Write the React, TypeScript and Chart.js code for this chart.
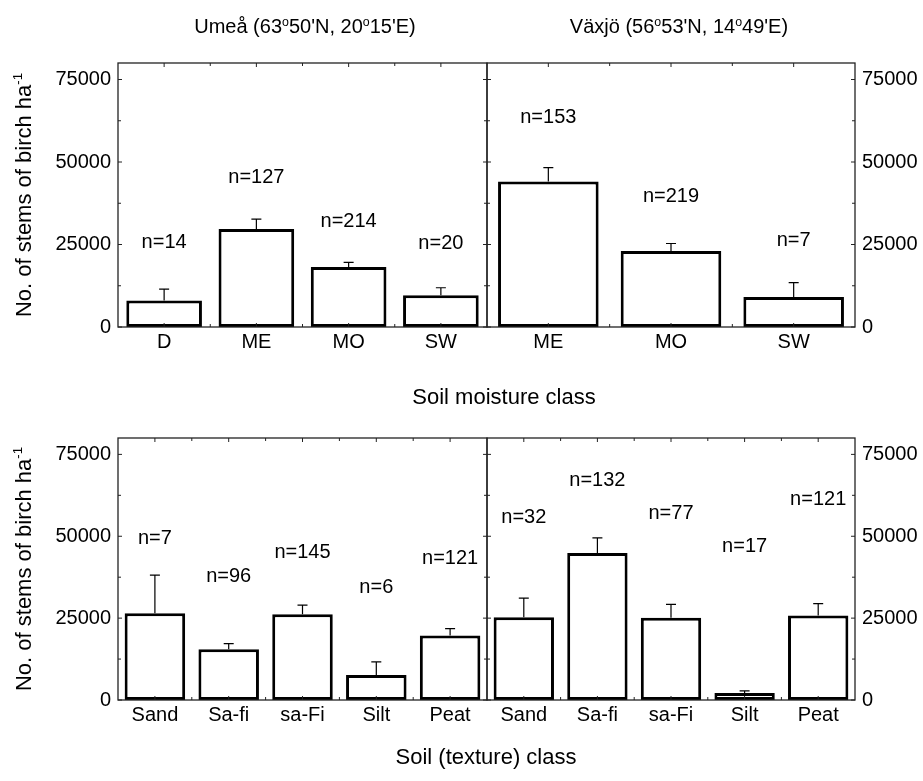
import React, { useEffect, useRef } from 'react';
import { Chart, registerables } from 'chart.js';

Chart.register(...registerables);

const FONT = '"Liberation Sans", Arial, Helvetica, sans-serif';

// ---- shared axis data ----
const yTickLabels = [0, 25000, 50000, 75000];
const yMinorTicks = [12500, 37500, 62500];
const yMax = 80000;

// ---- Umeå, soil moisture ----
const moistUmeaCats = ['D', 'ME', 'MO', 'SW'];
const moistUmeaMeans = [8000, 29700, 18200, 9600];
const moistUmeaErr = [3500, 3000, 1400, 2300];
const moistUmeaN = ['n=14', 'n=127', 'n=214', 'n=20'];
const moistUmeaNPos = [25700, 45200, 31900, 25300];

// ---- Växjö, soil moisture ----
const moistVaxjoCats = ['ME', 'MO', 'SW'];
const moistVaxjoMeans = [44100, 23000, 9100];
const moistVaxjoErr = [4200, 2300, 4350];
const moistVaxjoN = ['n=153', 'n=219', 'n=7'];
const moistVaxjoNPos = [63500, 39700, 26300];

// ---- Umeå, soil texture ----
const textUmeaCats = ['Sand', 'Sa-fi', 'sa-Fi', 'Silt', 'Peat'];
const textUmeaMeans = [26500, 15500, 26200, 7600, 19700];
const textUmeaErr = [11600, 1700, 2800, 4050, 2100];
const textUmeaN = ['n=7', 'n=96', 'n=145', 'n=6', 'n=121'];
const textUmeaNPos = [49200, 37800, 45100, 34500, 43300];

// ---- Växjö, soil texture ----
const textVaxjoCats = ['Sand', 'Sa-fi', 'sa-Fi', 'Silt', 'Peat'];
const textVaxjoMeans = [25300, 44900, 25100, 2100, 25800];
const textVaxjoErr = [5800, 4600, 4100, 700, 3600];
const textVaxjoN = ['n=32', 'n=132', 'n=77', 'n=17', 'n=121'];
const textVaxjoNPos = [55700, 66900, 57000, 46900, 61100];

const W = 923;
const H = 781;

type PanelDef = {
  cats: string[];
  means: number[];
  errs: number[];
  nLabels: string[];
  nPos: number[];
  side: 'left' | 'right';
  row: 'top' | 'bottom';
};

const panels: PanelDef[] = [
  { cats: moistUmeaCats, means: moistUmeaMeans, errs: moistUmeaErr, nLabels: moistUmeaN, nPos: moistUmeaNPos, side: 'left', row: 'top' },
  { cats: moistVaxjoCats, means: moistVaxjoMeans, errs: moistVaxjoErr, nLabels: moistVaxjoN, nPos: moistVaxjoNPos, side: 'right', row: 'top' },
  { cats: textUmeaCats, means: textUmeaMeans, errs: textUmeaErr, nLabels: textUmeaN, nPos: textUmeaNPos, side: 'left', row: 'bottom' },
  { cats: textVaxjoCats, means: textVaxjoMeans, errs: textVaxjoErr, nLabels: textVaxjoN, nPos: textVaxjoNPos, side: 'right', row: 'bottom' },
];

function Panel({ def }: { def: PanelDef }) {
  const ref = useRef<HTMLCanvasElement>(null);
  useEffect(() => {
    const isLeft = def.side === 'left';
    const area = {
      left: isLeft ? 118 : 487,
      right: isLeft ? 487 : 855,
      top: def.row === 'top' ? 63 : 438,
      bottom: def.row === 'top' ? 327 : 700,
    };
    const YW = isLeft ? 70 : 68;
    const XH = 30;
    const padding = {
      left: isLeft ? area.left - YW : area.left,
      right: isLeft ? W - area.right : W - area.right - YW,
      top: area.top,
      bottom: H - area.bottom - XH,
    };

    const decor = {
      id: 'decor',
      afterDatasetsDraw(chart: any) {
        const { ctx, chartArea: a, scales } = chart;
        const xs = scales.x;
        const ys = scales.y;
        ctx.save();
        // error bars
        ctx.strokeStyle = '#000';
        ctx.lineWidth = 1.2;
        def.means.forEach((m, i) => {
          const x = xs.getPixelForValue(i);
          const yb = ys.getPixelForValue(m);
          const yt = ys.getPixelForValue(m + def.errs[i]);
          ctx.beginPath();
          ctx.moveTo(x, yb);
          ctx.lineTo(x, yt);
          ctx.moveTo(x - 5, yt);
          ctx.lineTo(x + 5, yt);
          ctx.stroke();
        });
        // n labels
        ctx.fillStyle = '#000';
        ctx.font = `20px ${FONT}`;
        ctx.textAlign = 'center';
        ctx.textBaseline = 'middle';
        def.nLabels.forEach((t, i) => {
          ctx.fillText(t, xs.getPixelForValue(i), ys.getPixelForValue(def.nPos[i]));
        });
        // frame
        ctx.strokeStyle = '#222';
        ctx.lineWidth = 1.3;
        ctx.strokeRect(a.left, a.top, a.right - a.left, a.bottom - a.top);
        // y ticks (inward, both sides)
        ctx.lineWidth = 1;
        const yt = (v: number, len: number) => {
          const y = ys.getPixelForValue(v);
          ctx.beginPath();
          ctx.moveTo(a.left, y);
          ctx.lineTo(a.left + len, y);
          ctx.moveTo(a.right, y);
          ctx.lineTo(a.right - len, y);
          ctx.stroke();
        };
        yTickLabels.forEach((v) => yt(v, 4));
        yMinorTicks.forEach((v) => yt(v, 3));
        // x ticks (centres and boundaries, top and bottom)
        const n = def.cats.length;
        const xt = (x: number, len: number) => {
          ctx.beginPath();
          ctx.moveTo(x, a.bottom);
          ctx.lineTo(x, a.bottom - len);
          ctx.moveTo(x, a.top);
          ctx.lineTo(x, a.top + len);
          ctx.stroke();
        };
        for (let i = 0; i < n; i++) {
          const c = xs.getPixelForValue(i);
          xt(c, 4);
          if (i < n - 1) {
            const c2 = xs.getPixelForValue(i + 1);
            xt((c + c2) / 2, 3);
          }
        }
        ctx.restore();
      },
    };

    const chart = new Chart(ref.current as HTMLCanvasElement, {
      type: 'bar',
      data: {
        labels: def.cats,
        datasets: [
          {
            data: def.means,
            backgroundColor: '#ffffff',
            borderColor: '#000000',
            borderWidth: 3,
            borderSkipped: false,
            barPercentage: 0.82,
            categoryPercentage: 1,
          } as any,
        ],
      },
      options: {
        animation: false,
        responsive: false,
        maintainAspectRatio: false,
        events: [],
        layout: { padding },
        plugins: {
          legend: { display: false },
          tooltip: { enabled: false },
          title: { display: false },
        },
        scales: {
          x: {
            type: 'category',
            offset: true,
            grid: { display: false, drawTicks: false },
            border: { display: false },
            ticks: {
              font: { family: FONT, size: 20 },
              color: '#000',
              padding: 3,
              maxRotation: 0,
              autoSkip: false,
            },
            afterFit: (s: any) => {
              s.height = XH;
            },
          },
          y: {
            type: 'linear',
            position: def.side,
            min: 0,
            max: yMax,
            grid: { display: false, drawTicks: false },
            border: { display: false },
            afterBuildTicks: (s: any) => {
              s.ticks = yTickLabels.map((v) => ({ value: v }));
            },
            ticks: {
              font: { family: FONT, size: 20 },
              color: '#000',
              padding: 7,
              callback: (v: any) => String(v),
            },
            afterFit: (s: any) => {
              s.width = YW;
            },
          },
        } as any,
      },
      plugins: [decor],
    });
    return () => chart.destroy();
  }, [def]);
  return (
    <canvas
      ref={ref}
      width={W}
      height={H}
      style={{ position: 'absolute', left: 0, top: 0, width: W, height: H }}
    />
  );
}

const txt: React.CSSProperties = {
  position: 'absolute',
  fontFamily: FONT,
  color: '#000',
  whiteSpace: 'nowrap',
  lineHeight: 1,
};

const supO: React.CSSProperties = { fontSize: '0.62em', verticalAlign: '0.55em' };

export default function App() {
  return (
    <div
      style={{
        position: 'absolute',
        left: 0,
        top: 0,
        width: W,
        height: H,
        background: '#fff',
        overflow: 'hidden',
      }}
    >
      {panels.map((p, i) => (
        <Panel key={i} def={p} />
      ))}
      <div style={{ ...txt, fontSize: 20, left: 305, top: 26, transform: 'translate(-50%,-50%)' }}>
        Umeå (63<span style={supO}>o</span>50'N, 20<span style={supO}>o</span>15'E)
      </div>
      <div style={{ ...txt, fontSize: 20, left: 679, top: 26, transform: 'translate(-50%,-50%)' }}>
        Växjö (56<span style={supO}>o</span>53'N, 14<span style={supO}>o</span>49'E)
      </div>
      <div style={{ ...txt, fontSize: 22, left: 23, top: 195, transform: 'translate(-50%,-50%) rotate(-90deg)' }}>
        No. of stems of birch ha<span style={{ fontSize: '0.6em', verticalAlign: '0.7em' }}>-1</span>
      </div>
      <div style={{ ...txt, fontSize: 22, left: 23, top: 569, transform: 'translate(-50%,-50%) rotate(-90deg)' }}>
        No. of stems of birch ha<span style={{ fontSize: '0.6em', verticalAlign: '0.7em' }}>-1</span>
      </div>
      <div style={{ ...txt, fontSize: 22, left: 504, top: 397, transform: 'translate(-50%,-50%)' }}>
        Soil moisture class
      </div>
      <div style={{ ...txt, fontSize: 22, left: 486, top: 757, transform: 'translate(-50%,-50%)' }}>
        Soil (texture) class
      </div>
    </div>
  );
}
